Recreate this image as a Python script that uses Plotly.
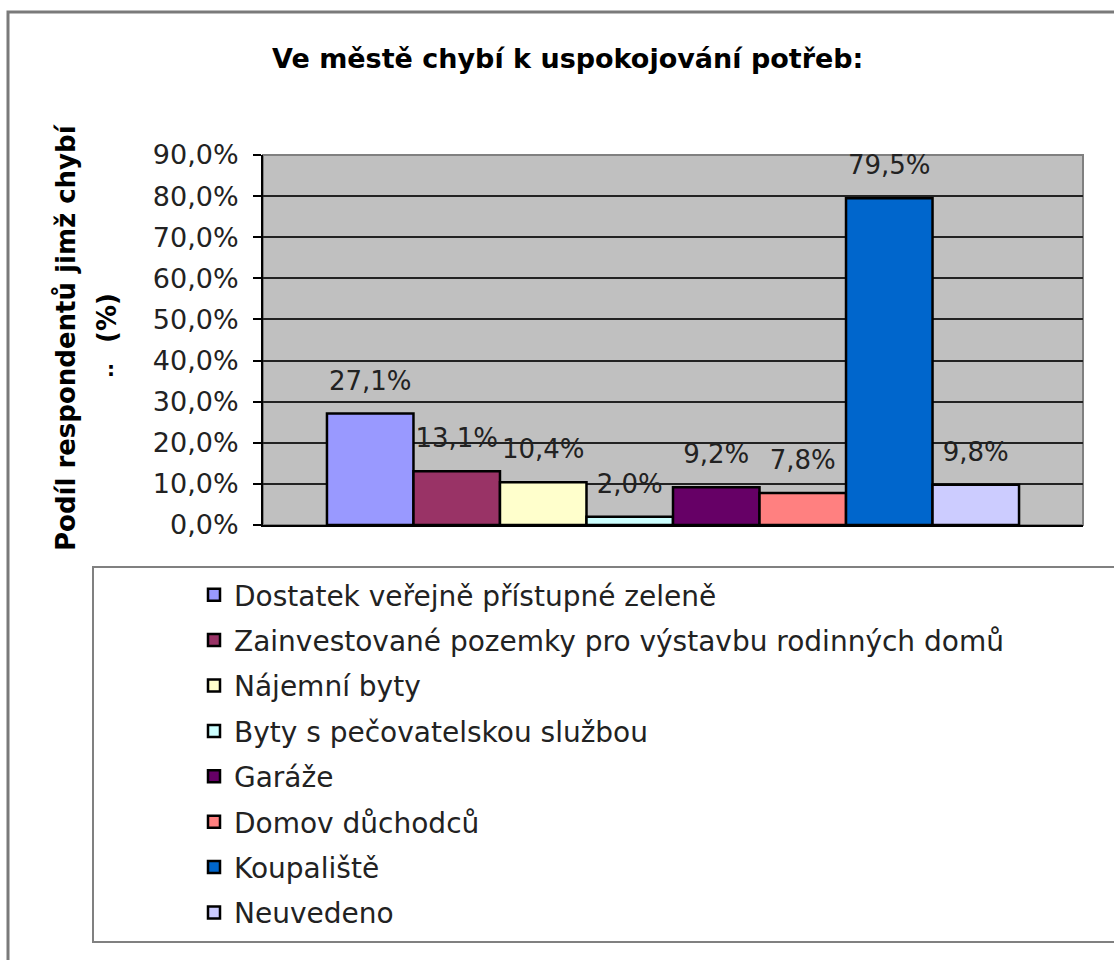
import plotly.graph_objects as go

categories = ["Dostatek veřejně přístupné zeleně",
              "Zainvestované pozemky pro výstavbu rodinných domů",
              "Nájemní byty",
              "Byty s pečovatelskou službou",
              "Garáže",
              "Domov důchodců",
              "Koupaliště",
              "Neuvedeno"]
values = [27.1, 13.1, 10.4, 2.0, 9.2, 7.8, 79.5, 9.8]
colors = ["#9999FF", "#993366", "#FFFFCC", "#CCFFFF",
          "#660066", "#FF8080", "#0066CC", "#CCCCFF"]
y_ticks = [0, 10, 20, 30, 40, 50, 60, 70, 80, 90]
y_tick_labels = [f"{v:.1f}".replace(".", ",") + "%" for v in y_ticks]

title_text = "Ve městě chybí k uspokojování potřeb:"
ytitle_line1 = "Podíl respondentů jimž chybí"
ytitle_line2 = "(%)"

W, H = 1114, 960
L, R, T, B = 263, 1083, 155, 525  # plot area in px


def px_x(x):
    return (x - L) / (R - L)


def px_y(y):
    return (B - y) / (B - T)


FONT = "DejaVu Sans, Liberation Sans, Arial, sans-serif"

fig = go.Figure()
for i, (name, v, c) in enumerate(zip(categories, values, colors)):
    fig.add_trace(go.Bar(
        x=["kat"], y=[v], name=name, legendgroup=f"g{i}",
        offsetgroup=str(i), alignmentgroup="a",
        marker=dict(color=c, line=dict(color="#000000", width=2.5)),
    ))
for i, v in enumerate(values):
    fig.add_trace(go.Scatter(
        x=["kat"], y=[v], mode="markers+text", showlegend=False,
        offsetgroup=str(i), alignmentgroup="a",
        marker=dict(size=26, color="rgba(0,0,0,0)"),
        text=[f"{v:.1f}".replace(".", ",") + "%"], textposition="top center",
        textfont=dict(family=FONT, size=26, color="#222222"),
        cliponaxis=False, hoverinfo="skip",
    ))

fig.update_layout(
    width=W, height=H,
    margin=dict(l=L, r=W - R, t=T, b=H - B),
    paper_bgcolor="white", plot_bgcolor="#C0C0C0",
    separators=", ",
    barmode="group", bargap=0.156, bargroupgap=0,
    scattermode="group", scattergap=0.156,
    showlegend=True,
    legend=dict(
        x=px_x(194), y=px_y(570), xanchor="left", yanchor="top",
        bgcolor="rgba(0,0,0,0)", borderwidth=0,
        font=dict(family=FONT, size=28, color="#222222"),
        tracegroupgap=6, traceorder="grouped",
    ),
    xaxis=dict(showticklabels=False, showgrid=False, showline=True,
               linecolor="#000000", linewidth=2, ticks="", zeroline=False),
    yaxis=dict(range=[0, 90], tickvals=y_ticks, ticktext=y_tick_labels,
               showgrid=True, gridcolor="#222222", gridwidth=1.5,
               showline=True, linecolor="#000000", linewidth=2,
               ticks="outside", ticklen=8, tickcolor="#000000", tickwidth=1.5,
               ticklabelstandoff=9, zeroline=False,
               tickfont=dict(family=FONT, size=27, color="#222222")),
    shapes=[
        dict(type="rect", xref="paper", yref="paper",
             x0=px_x(8), x1=px_x(1125), y0=px_y(975), y1=px_y(12),
             line=dict(color="#7a7a7a", width=3), layer="below"),
        dict(type="rect", xref="paper", yref="paper",
             x0=px_x(93), x1=px_x(1130), y0=px_y(942), y1=px_y(567),
             line=dict(color="#808080", width=2), layer="below"),
        dict(type="rect", xref="paper", yref="paper",
             x0=0, x1=1, y0=0, y1=1,
             line=dict(color="#808080", width=2), layer="below"),
    ],
    annotations=[
        dict(text=f"<b>{title_text}</b>", xref="paper", yref="paper",
             x=px_x(567), y=px_y(58), xanchor="center", yanchor="middle",
             showarrow=False,
             font=dict(family=FONT, size=27, color="#000000")),
        dict(text=f"<b>{ytitle_line1}</b>", xref="paper", yref="paper",
             x=px_x(66), y=px_y(337), xanchor="center", yanchor="middle",
             showarrow=False, textangle=-90,
             font=dict(family=FONT, size=26, color="#000000")),
        dict(text=f"<b>{ytitle_line2}</b>", xref="paper", yref="paper",
             x=px_x(107), y=px_y(318), xanchor="center", yanchor="middle",
             showarrow=False, textangle=-90,
             font=dict(family=FONT, size=26, color="#000000")),
        dict(text="<b>:</b>", xref="paper", yref="paper",
             x=px_x(111), y=px_y(369), xanchor="center", yanchor="middle",
             showarrow=False,
             font=dict(family=FONT, size=20, color="#000000")),
    ],
)

fig.write_html("out.html", config={"displayModeBar": False},
               post_script="document.body.style.margin='0';document.body.style.overflow='hidden';")
